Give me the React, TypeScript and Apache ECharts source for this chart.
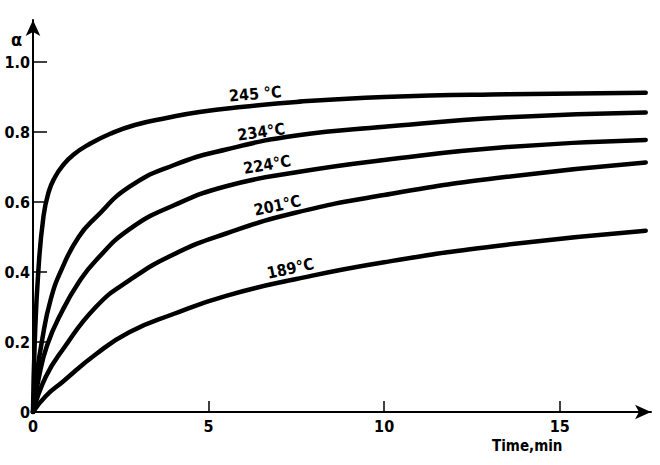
import React, { useEffect, useRef } from "react";
import * as echarts from "echarts";

const xTicks = [0, 5, 10, 15];
const yTicks = [0, 0.2, 0.4, 0.6, 0.8, 1.0];

const curveNames = ["245 °C", "234°C", "224°C", "201°C", "189°C"];

const c245: [number, number][] = [
  [0, 0], [0.05, 0.2], [0.15, 0.4], [0.3, 0.56], [0.45, 0.63], [0.62, 0.67], [0.84, 0.703],
  [1.15, 0.735], [1.6, 0.765], [2.2, 0.795], [2.9, 0.82], [3.8, 0.84], [4.74, 0.857],
  [6, 0.872], [7.5, 0.886], [10, 0.9], [13.5, 0.908], [17.45, 0.912],
];
const c234: [number, number][] = [
  [0, 0], [0.1, 0.1], [0.25, 0.2], [0.5, 0.32], [0.84, 0.413], [1.3, 0.5], [1.79, 0.556],
  [2.74, 0.643], [4, 0.705], [5.5, 0.75], [7.5, 0.79], [10, 0.815], [13.5, 0.842], [17.45, 0.856],
];
const c224: [number, number][] = [
  [0, 0], [0.15, 0.09], [0.4, 0.19], [0.84, 0.29], [1.3, 0.37], [1.79, 0.433], [2.74, 0.522],
  [4, 0.59], [5.5, 0.645], [7.5, 0.685], [10, 0.72], [13.5, 0.757], [17.45, 0.777],
];
const c201: [number, number][] = [
  [0, 0], [0.36, 0.1], [0.84, 0.177], [1.79, 0.3], [2.74, 0.376], [4, 0.45],
  [5.5, 0.51], [7.5, 0.57], [10, 0.62], [13.5, 0.672], [17.45, 0.713],
];
const c189: [number, number][] = [
  [0, 0], [0.36, 0.045], [0.84, 0.086], [1.79, 0.165], [2.74, 0.228], [4, 0.28],
  [5.5, 0.332], [7.5, 0.38], [10, 0.428], [13.5, 0.478], [17.45, 0.518],
];
const curves = [c245, c234, c224, c201, c189];

// label anchor (data space) and rotation for each curve's annotation
const labelAnchors: [number, number][] = [
  [6.33, 0.909], [6.5, 0.8], [6.67, 0.707], [6.96, 0.59], [7.33, 0.41],
];
const labelRotations = [5, 8, 10, 12, 12];

const FONT = "'DejaVu Sans Condensed', 'DejaVu Sans', sans-serif";

export default function App() {
  const ref = useRef<HTMLDivElement>(null);
  useEffect(() => {
    if (!ref.current) return;
    const chart = echarts.init(ref.current, undefined, { renderer: "svg" });
    const series = curves.map((data, i) => ({
      type: "line",
      name: curveNames[i],
      data,
      showSymbol: false,
      smooth: 0.5,
      lineStyle: { color: "#000", width: 4.5, cap: "round" },
      markPoint: {
        symbol: "circle",
        symbolSize: 0,
        silent: true,
        data: [
          {
            coord: labelAnchors[i],
            label: {
              show: true,
              formatter: curveNames[i],
              position: "inside",
              rotate: labelRotations[i],
              color: "#000",
              fontSize: 16,
              fontWeight: "bold",
              fontFamily: FONT,
            },
          },
        ],
      },
    }));
    chart.setOption({
      animation: false,
      backgroundColor: "#fff",
      grid: { left: 33, right: 9, top: 20, bottom: 53, containLabel: false },
      xAxis: {
        type: "value",
        min: 0,
        max: 17.6,
        interval: 5,
        splitLine: { show: false },
        axisLine: {
          show: true,
          onZero: false,
          symbol: ["none", "arrow"],
          symbolSize: [11, 16],
          lineStyle: { color: "#000", width: 2 },
        },
        axisTick: {
          show: true,
          inside: true,
          length: 11,
          customValues: xTicks,
          lineStyle: { color: "#000", width: 1.5 },
        },
        axisLabel: {
          customValues: xTicks,
          color: "#000",
          fontSize: 16,
          fontWeight: "bold",
          fontFamily: FONT,
          margin: 6,
        },
      },
      yAxis: {
        type: "value",
        min: 0,
        max: 1.12,
        interval: 0.2,
        splitLine: { show: false },
        axisLine: {
          show: true,
          onZero: false,
          symbol: ["none", "arrow"],
          symbolSize: [11, 16],
          lineStyle: { color: "#000", width: 2 },
        },
        axisTick: {
          show: true,
          inside: true,
          length: 14,
          customValues: yTicks,
          lineStyle: { color: "#000", width: 1.5 },
        },
        axisLabel: {
          customValues: yTicks,
          formatter: (v: number) => (v === 0 ? "0" : v.toFixed(1)),
          color: "#000",
          fontSize: 16,
          fontWeight: "bold",
          fontFamily: FONT,
          margin: 3,
        },
      },
      graphic: [
        {
          type: "text",
          left: 11,
          top: 30,
          style: { text: "α", fill: "#000", font: `bold 18px ${FONT}` },
        },
        {
          type: "text",
          left: 492,
          top: 438,
          style: { text: "Time,min", fill: "#000", font: `bold 15px ${FONT}` },
        },
      ],
      series,
    });
    return () => chart.dispose();
  }, []);
  return (
    <div
      ref={ref}
      style={{ position: "fixed", left: 0, top: 0, width: 660, height: 465 }}
    />
  );
}
